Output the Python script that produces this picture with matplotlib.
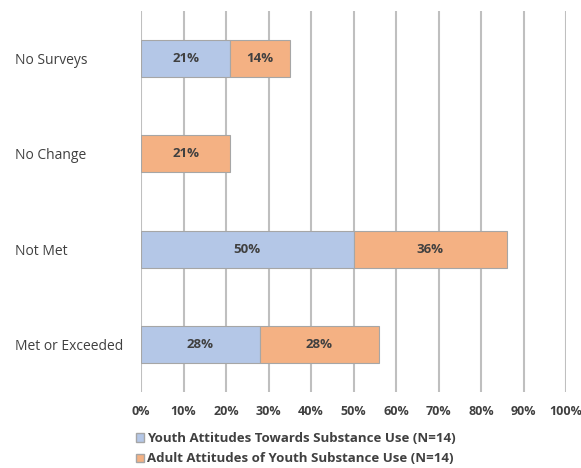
import numpy as np
import matplotlib.pyplot as plt
from matplotlib.patches import Patch

categories = ['Met or Exceeded', 'Not Met', 'No Change', 'No Surveys']
youth = [28, 50, 0, 21]
adult = [28, 36, 21, 14]
series_names = ['Youth Attitudes Towards Substance Use (N=14)',
                'Adult Attitudes of Youth Substance Use (N=14)']
xticks = np.arange(0, 101, 10)

blue = '#B4C7E7'
orange = '#F4B183'
text_col = '#404040'

plt.rcParams['font.family'] = ['Open Sans', 'DejaVu Sans']

fig = plt.figure(figsize=(5.81, 4.68), dpi=100)
ax = fig.add_axes([0.2427, 0.162, 0.7315, 0.815])

y = np.arange(len(categories))
h = 0.39
b1 = ax.barh(y, youth, height=h, color=blue, edgecolor='#A6A6A6', linewidth=0.8, zorder=3)
b2 = ax.barh(y, adult, left=youth, height=h, color=orange, edgecolor='#A6A6A6', linewidth=0.8, zorder=3)

for i in range(len(categories)):
    if youth[i] > 0:
        ax.text(youth[i] / 2, y[i], f'{youth[i]}%', ha='center', va='center',
                fontsize=9.5, fontweight='bold', color=text_col, zorder=4)
    if adult[i] > 0:
        ax.text(youth[i] + adult[i] / 2, y[i], f'{adult[i]}%', ha='center', va='center',
                fontsize=9.5, fontweight='bold', color=text_col, zorder=4)

ax.set_xlim(0, 100)
ax.set_ylim(-0.5, 3.5)
ax.set_xticks(xticks)
ax.set_xticklabels([f'{v}%' for v in xticks], fontsize=9, fontweight='bold', color=text_col)
ax.set_yticks(y)
ax.set_yticklabels(categories, fontsize=10, color=text_col)
for lab in ax.get_yticklabels():
    lab.set_ha('left')
ax.tick_params(axis='y', length=0, pad=91)
ax.tick_params(axis='x', length=0, pad=9)
ax.grid(axis='x', color='#BFBFBF', linewidth=1.5, zorder=0)
for s in ax.spines.values():
    s.set_visible(False)

handles = [Patch(facecolor=blue, edgecolor='#A6A6A6'), Patch(facecolor=orange, edgecolor='#A6A6A6')]
leg = fig.legend(handles, series_names, loc='upper left', bbox_to_anchor=(0.225, 0.088),
                 frameon=False, prop={'size': 9.5, 'weight': 'bold'},
                 handlelength=0.6, handleheight=0.6, handletextpad=0.2, labelspacing=0.55,
                 borderaxespad=0)
for t in leg.get_texts():
    t.set_color(text_col)

fig.savefig('out.png', dpi=100)
